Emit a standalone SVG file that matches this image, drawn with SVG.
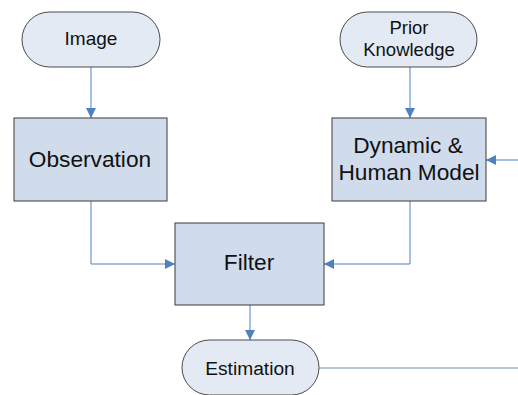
<svg xmlns="http://www.w3.org/2000/svg" width="518" height="395" viewBox="0 0 518 395">
<style>
.pill{fill:#e4eaf4;stroke:#4a4a4a;stroke-width:1}
.box{fill:#d0dbec;stroke:#3a3a3a;stroke-width:1}
.t{font-family:"Liberation Sans",Arial,sans-serif;fill:#111;text-anchor:middle}
.c{fill:none;stroke:#4f81bd;stroke-width:1}
</style>
<defs>
<marker id="ah" viewBox="0 0 10 10" refX="10" refY="5" markerWidth="10" markerHeight="10" markerUnits="userSpaceOnUse" orient="auto">
<path d="M0,0 L10,5 L0,10 z" fill="#4f81bd"/>
</marker>
</defs>
<rect width="518" height="395" fill="#fff"/>
<g id="connectors">
<line class="c" x1="91" y1="67" x2="91" y2="118" marker-end="url(#ah)"/>
<line class="c" x1="410" y1="67" x2="410" y2="118" marker-end="url(#ah)"/>
<line class="c" x1="518" y1="160" x2="486" y2="160" marker-end="url(#ah)"/>
<polyline class="c" points="91,201 91,264 175,264" marker-end="url(#ah)"/>
<polyline class="c" points="410,201 410,264 324,264" marker-end="url(#ah)"/>
<line class="c" x1="250" y1="305" x2="250" y2="340" marker-end="url(#ah)"/>
<line x1="319" y1="368" x2="518" y2="368" stroke="#9fb6c6" stroke-width="1.5"/>
</g>
<g id="image">
<rect class="pill" x="22" y="12" width="138" height="55" rx="27.5"/>
<text class="t" x="91" y="45" font-size="19">Image</text>
</g>
<g id="prior">
<rect class="pill" x="340" y="12" width="137" height="55" rx="27.5"/>
<text class="t" x="409" y="34" font-size="18.5">Prior</text>
<text class="t" x="409" y="56" font-size="18.5">Knowledge</text>
</g>
<g id="observation">
<rect class="box" x="14" y="118" width="153" height="83"/>
<text class="t" x="90" y="167" font-size="22.7">Observation</text>
</g>
<g id="dynamic">
<rect class="box" x="332" y="118" width="154" height="83"/>
<text class="t" x="408" y="153" font-size="22.7">Dynamic &amp;</text>
<text class="t" x="409" y="180" font-size="22.7">Human Model</text>
</g>
<g id="filter">
<rect class="box" x="175" y="223" width="149" height="82"/>
<text class="t" x="249" y="270" font-size="22.7">Filter</text>
</g>
<g id="estimation">
<rect class="pill" x="182" y="340" width="137" height="55" rx="27.5"/>
<text class="t" x="250" y="375" font-size="19.2">Estimation</text>
</g>
</svg>
